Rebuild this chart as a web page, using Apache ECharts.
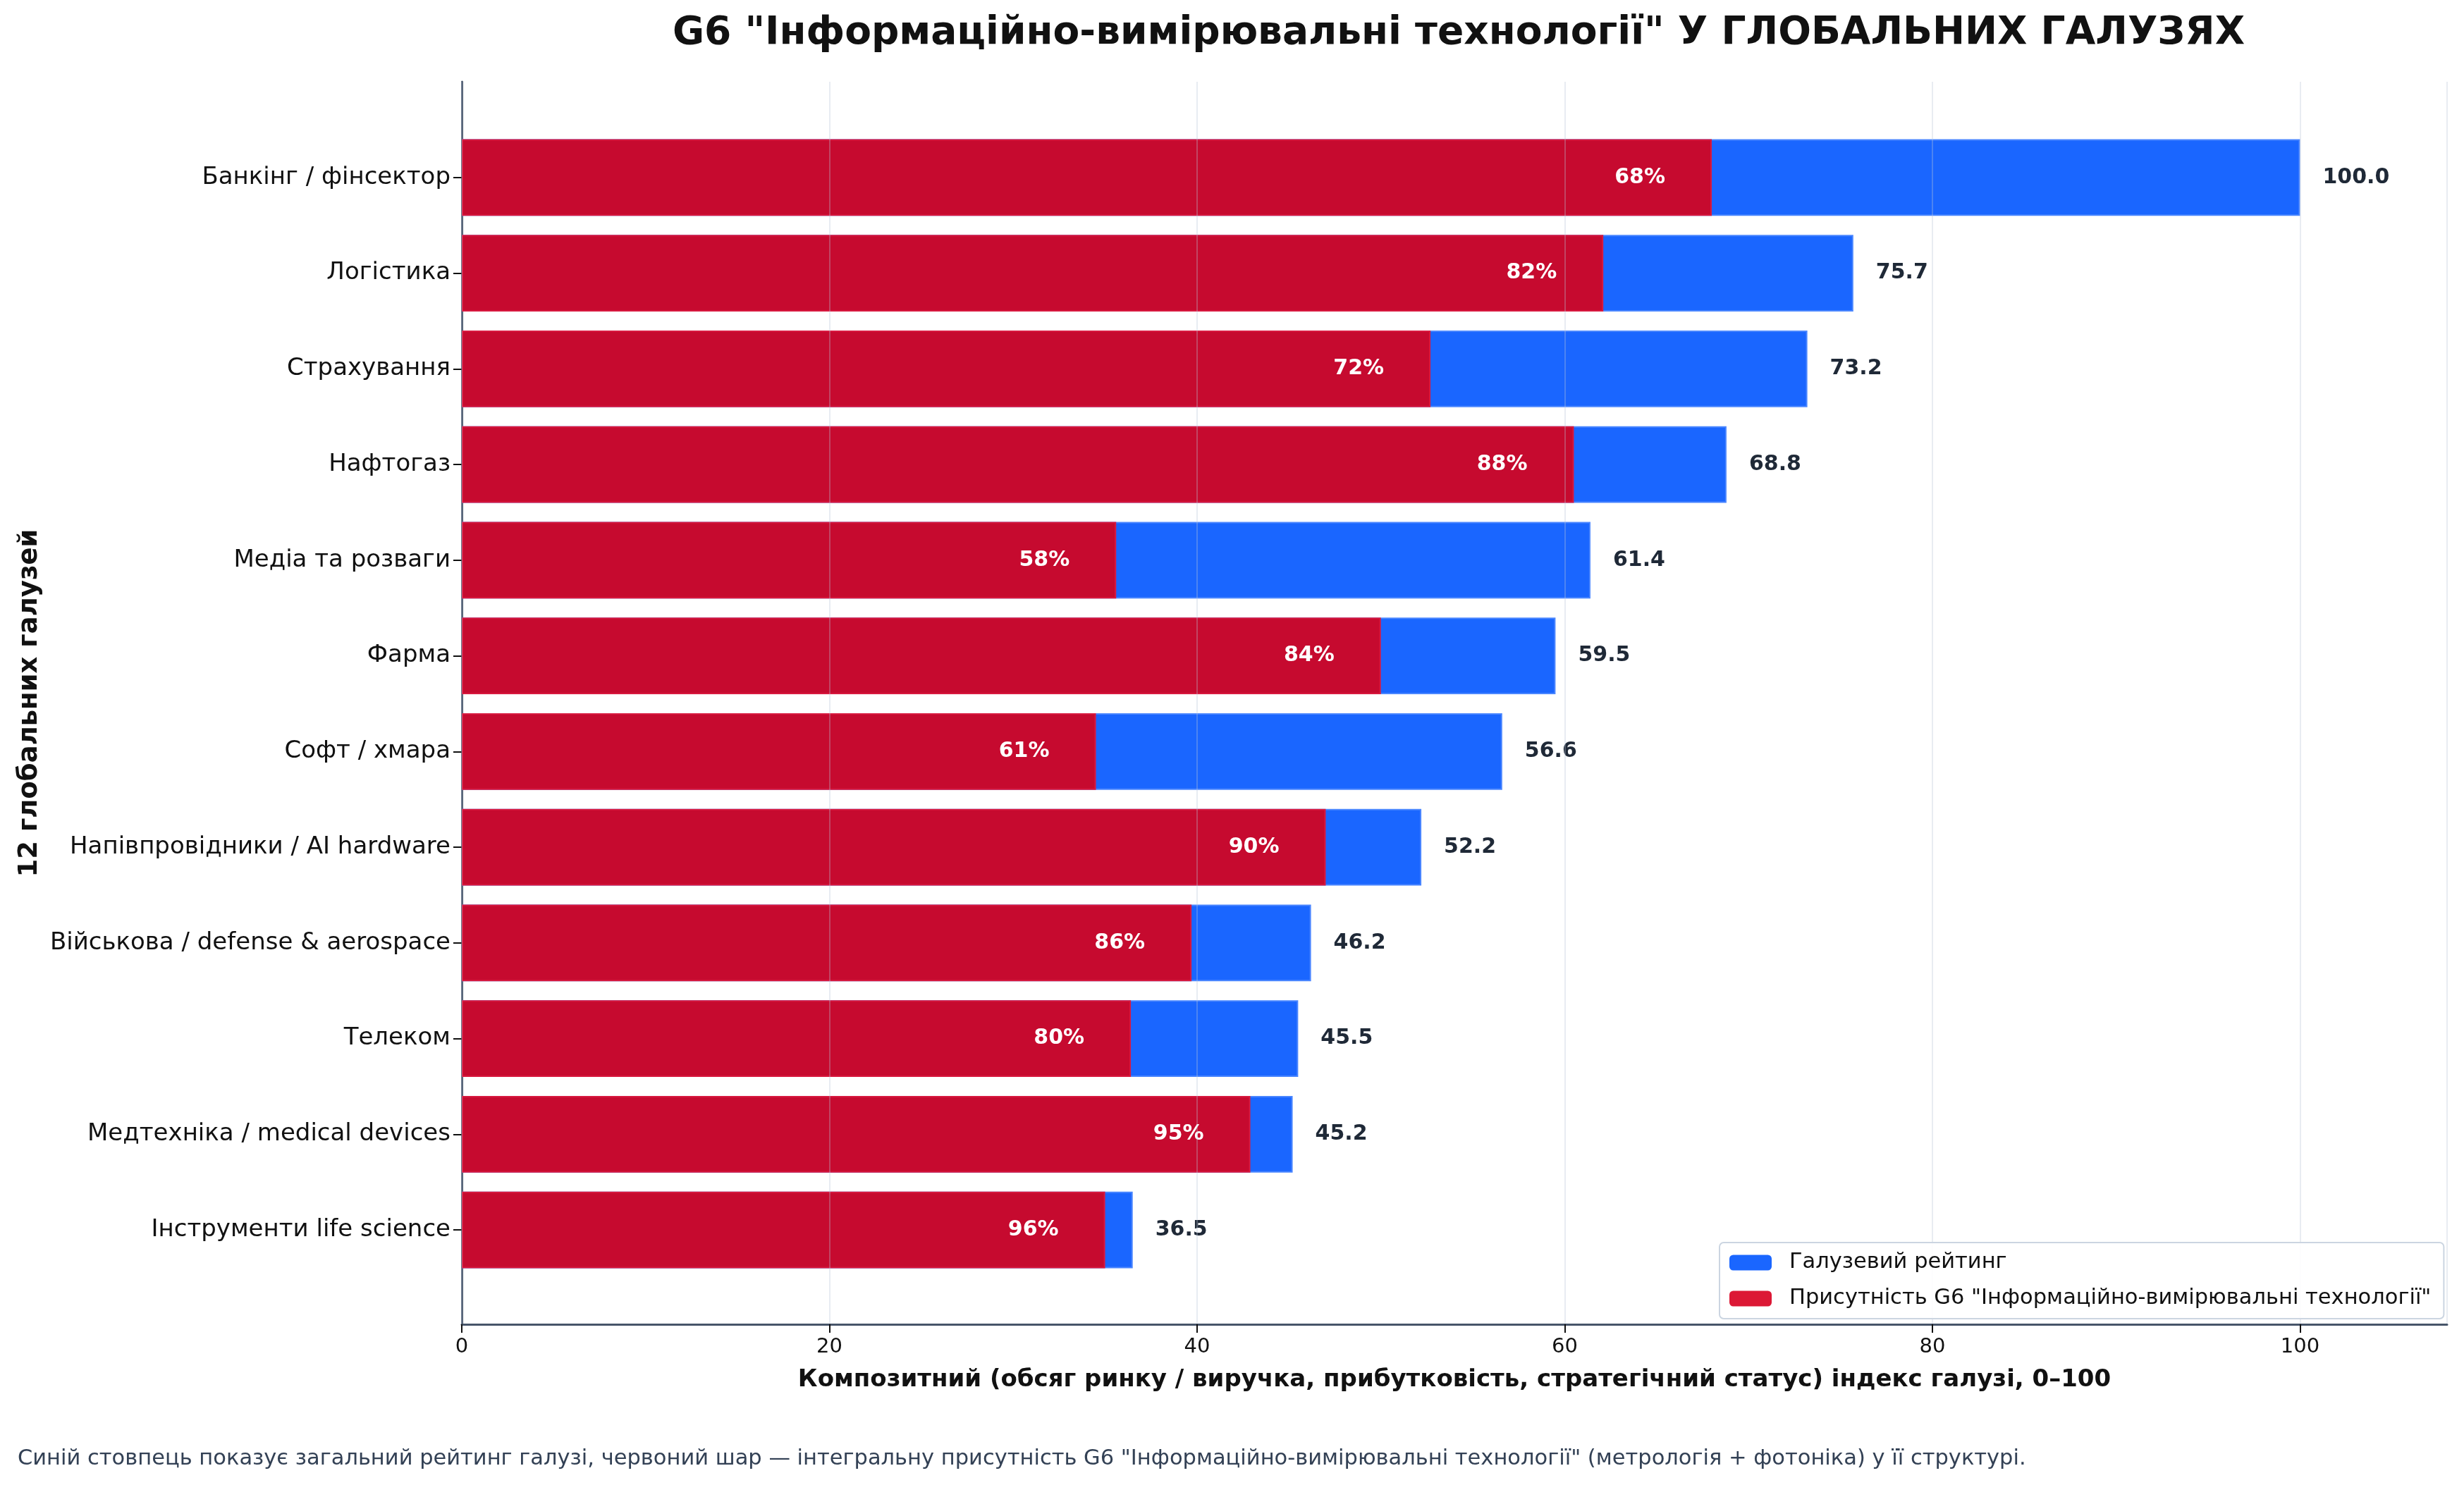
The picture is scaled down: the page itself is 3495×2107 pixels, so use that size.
<!DOCTYPE html>
<html>
<head>
<meta charset="utf-8">
<script src="https://cdn.jsdelivr.net/npm/echarts@6/dist/echarts.min.js"></script>
<style>
html,body{margin:0;padding:0;background:#fff;}
#chart{width:3495px;height:2107px;}
</style>
</head>
<body>
<div id="chart"></div>
<script>
const categories = [
  'Банкінг / фінсектор',
  'Логістика',
  'Страхування',
  'Нафтогаз',
  'Медіа та розваги',
  'Фарма',
  'Софт / хмара',
  'Напівпровідники / AI hardware',
  'Військова / defense & aerospace',
  'Телеком',
  'Медтехніка / medical devices',
  'Інструменти life science'
];
const ratingValues = [100.0, 75.7, 73.2, 68.8, 61.4, 59.5, 56.6, 52.2, 46.2, 45.5, 45.2, 36.5];
const presenceValues = [68.0, 62.1, 52.7, 60.5, 35.6, 50.0, 34.5, 47.0, 39.7, 36.4, 42.9, 35.0];
const presencePct = [68, 82, 72, 88, 58, 84, 61, 90, 86, 80, 95, 96];
const xTicks = [0, 20, 40, 60, 80, 100];

const FONT = 'DejaVu Sans';
const chart = echarts.init(document.getElementById('chart'), null, {renderer: 'canvas'});

const option = {
  backgroundColor: '#ffffff',
  animation: false,
  textStyle: {fontFamily: FONT},
  title: [
    {
      text: 'G6 "Інформаційно-вимірювальні технології" У ГЛОБАЛЬНИХ ГАЛУЗЯХ',
      left: 2064, top: 15, textAlign: 'center',
      textStyle: {fontFamily: FONT, fontSize: 55, fontWeight: 'bold', color: '#111111'}
    },
    {
      text: 'Синій стовпець показує загальний рейтинг галузі, червоний шар — інтегральну присутність G6 "Інформаційно-вимірювальні технології" (метрологія + фотоніка) у її структурі.',
      left: 20, top: 2050,
      textStyle: {fontFamily: FONT, fontSize: 30.5, fontWeight: 'normal', color: '#334155'}
    }
  ],
  legend: {
    orient: 'vertical',
    left: 2439, top: 1763,
    itemWidth: 60, itemHeight: 22, itemGap: 20,
    padding: [13, 18, 13, 14],
    backgroundColor: 'rgba(255,255,255,0.9)',
    borderColor: '#cbd5e1', borderWidth: 2, borderRadius: 6,
    textStyle: {fontFamily: FONT, fontSize: 30.5, color: '#111111', padding: [0, 0, 0, 20]},
    data: [
      {name: 'Галузевий рейтинг', itemStyle: {color: '#1a66ff', borderWidth: 0}},
      {name: 'Присутність G6 "Інформаційно-вимірювальні технології"', itemStyle: {color: '#dc1835', borderWidth: 0}}
    ]
  },
  grid: [
    {left: 655, right: 24, top: 184, bottom: 294},
    {left: 655, right: 24, top: 116, bottom: 228}
  ],
  xAxis: [
    {
      gridIndex: 0, type: 'value', min: 0, max: 108, show: false
    },
    {
      gridIndex: 1, type: 'value', min: 0, max: 108, interval: 20, z: 3,
      axisLine: {show: true, lineStyle: {color: '#475569', width: 3}},
      axisTick: {show: true, length: 12, lineStyle: {color: '#111111', width: 2}},
      axisLabel: {show: true, showMaxLabel: false, margin: 18, fontFamily: FONT, fontSize: 29, color: '#111111'},
      splitLine: {show: true, lineStyle: {color: 'rgba(185,195,215,0.32)', width: 2}},
      name: 'Композитний (обсяг ринку / виручка, прибутковість, стратегічний статус) індекс галузі, 0–100',
      nameLocation: 'middle', nameGap: 62,
      nameTextStyle: {fontFamily: FONT, fontSize: 34, fontWeight: 'bold', color: '#111111'}
    }
  ],
  yAxis: [
    {
      gridIndex: 0, type: 'category', data: categories, inverse: true,
      axisLine: {show: false},
      axisTick: {show: true, alignWithLabel: true, length: 12, lineStyle: {color: '#111111', width: 2}},
      axisLabel: {fontFamily: FONT, fontSize: 34, color: '#111111', margin: 16},
      splitLine: {show: false}
    },
    {
      gridIndex: 1, type: 'value', min: 0, max: 1,
      axisLine: {show: true, lineStyle: {color: '#475569', width: 3}},
      axisTick: {show: false}, axisLabel: {show: false}, splitLine: {show: false},
      name: '12 глобальних галузей', nameLocation: 'middle', nameGap: 594, nameRotate: 90,
      nameTextStyle: {fontFamily: FONT, fontSize: 37, fontWeight: 'bold', color: '#111111'}
    }
  ],
  series: [
    {
      name: 'Галузевий рейтинг', type: 'bar', xAxisIndex: 0, yAxisIndex: 0,
      data: ratingValues, barWidth: '80%', barGap: '-100%',
      itemStyle: {color: '#1a66ff', borderColor: '#4a86ff', borderWidth: 2},
      label: {
        show: true, position: 'right', distance: 32,
        fontFamily: FONT, fontSize: 30, fontWeight: 'bold', color: '#1f2937',
        formatter: p => p.value.toFixed(1)
      },
      z: 2
    },
    {
      name: 'Присутність G6 "Інформаційно-вимірювальні технології"', type: 'bar', xAxisIndex: 0, yAxisIndex: 0,
      data: presenceValues, barWidth: '80%', barGap: '-100%',
      itemStyle: {color: '#c60a2f', borderColor: '#d8193f', borderWidth: 2},
      label: {
        show: true, position: 'insideRight', distance: 66,
        fontFamily: FONT, fontSize: 30, fontWeight: 'bold', color: '#ffffff',
        formatter: p => presencePct[p.dataIndex] + '%'
      },
      z: 2
    }
  ]
};
chart.setOption(option);
</script>
</body>
</html>
